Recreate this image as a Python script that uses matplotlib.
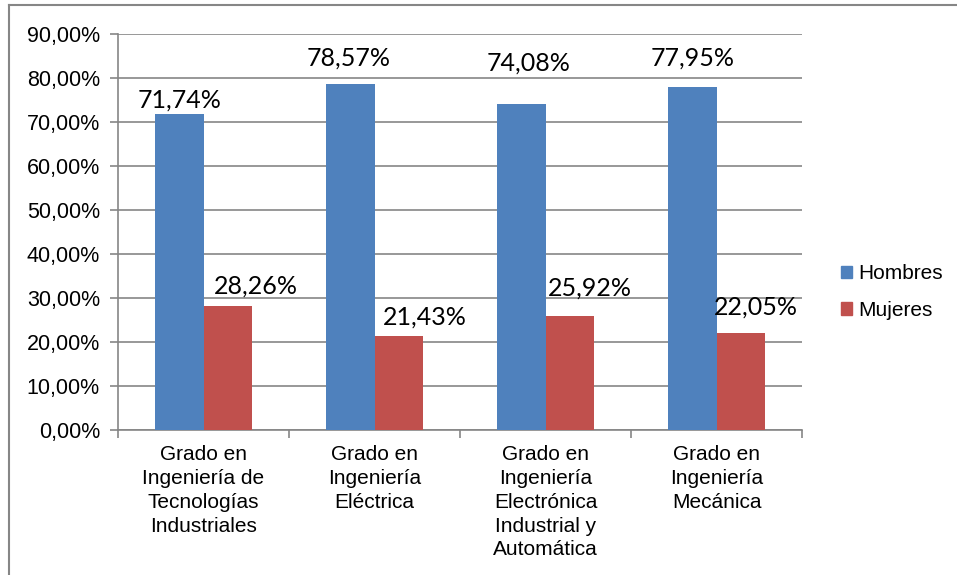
import matplotlib.pyplot as plt
import numpy as np
from matplotlib.lines import Line2D
from matplotlib.patches import Patch
from matplotlib.ticker import FuncFormatter

categorias = ["Grado en\nIngeniería de\nTecnologías\nIndustriales",
              "Grado en\nIngeniería\nEléctrica",
              "Grado en\nIngeniería\nElectrónica\nIndustrial y\nAutomática",
              "Grado en\nIngeniería\nMecánica"]
hombres = [71.74, 78.57, 74.08, 77.95]
mujeres = [28.26, 21.43, 25.92, 22.05]

# label offsets in pixels (labels were moved by hand in the original)
off_h = [(0, 3), (-2, 15), (7, 29), (0, 17)]
off_m = [(28, 8), (26, 7), (20, 16), (15, 14)]

azul = "#4F81BD"
rojo = "#C0504D"
gris = "#868686"

plt.rcParams['font.family'] = ['Liberation Sans', 'DejaVu Sans']

fig = plt.figure(figsize=(9.57, 5.75), dpi=100)
ax = fig.add_axes([118/957, 1-430/575, 684/957, 396/575])

x = np.arange(len(categorias))
w = 0.284
b1 = ax.bar(x - w/2, hombres, w, color=azul, label="Hombres", zorder=3)
b2 = ax.bar(x + w/2, mujeres, w, color=rojo, label="Mujeres", zorder=3)

def fmt(v):
    return f"{v:.2f}%".replace('.', ',')

for i in range(len(x)):
    ax.annotate(fmt(hombres[i]), (x[i] - w/2, hombres[i]),
                xytext=(off_h[i][0]*0.72, off_h[i][1]*0.72), textcoords='offset points',
                ha='center', va='bottom', fontsize=18, family=['Lato', 'DejaVu Sans'],
                annotation_clip=False)
    ax.annotate(fmt(mujeres[i]), (x[i] + w/2, mujeres[i]),
                xytext=(off_m[i][0]*0.72, off_m[i][1]*0.72), textcoords='offset points',
                ha='center', va='bottom', fontsize=18, family=['Lato', 'DejaVu Sans'],
                annotation_clip=False)

ax.set_xlim(-0.5, 3.5)
ax.set_ylim(0, 90)
ax.set_yticks(np.arange(0, 91, 10))
ax.yaxis.set_major_formatter(FuncFormatter(lambda v, p: fmt(v)))
ax.grid(axis='y', color=gris, linewidth=1.2, zorder=0)

ax.set_xticks(np.arange(-0.5, 3.6, 1))
ax.set_xticklabels([])
ax.set_xticks(x, minor=True)
ax.set_xticklabels(categorias, minor=True, fontsize=15, linespacing=1.32)
ax.tick_params(axis='x', which='minor', length=0, pad=11)
ax.tick_params(axis='x', which='major', length=6, color=gris, width=1.2)
ax.tick_params(axis='y', length=6, color=gris, width=1.2, labelsize=15.5, pad=7)

for s in ['top', 'right']:
    ax.spines[s].set_visible(False)
for s in ['left', 'bottom']:
    ax.spines[s].set_color(gris)
    ax.spines[s].set_linewidth(1.2)

handles = [Patch(color=azul), Patch(color=rojo)]
fig.legend(handles, ["Hombres", "Mujeres"], loc='center left',
           bbox_to_anchor=(841/957, 1-292/575), frameon=False, fontsize=15,
           handlelength=0.55, handleheight=0.55, handletextpad=0.3,
           labelspacing=0.85, borderpad=0, borderaxespad=0)

# outer border of the chart area
fig.add_artist(Line2D([9/957, 1], [1-5/575, 1-5/575], color=gris, linewidth=1.5))
fig.add_artist(Line2D([9/957, 9/957], [0, 1-5/575], color=gris, linewidth=1.5))

plt.savefig('out.png', dpi=100)
